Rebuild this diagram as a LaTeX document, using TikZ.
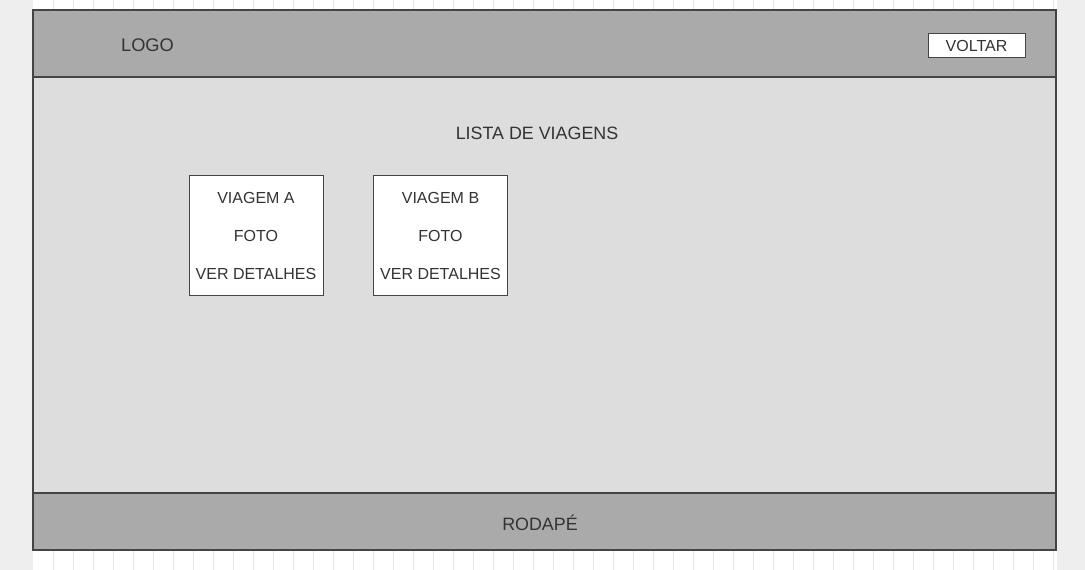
\documentclass[tikz,border=0pt]{standalone}
\usepackage{fontspec}
\setmainfont{Liberation Sans}
\definecolor{bgside}{HTML}{EEEEEE}
\definecolor{gridc}{HTML}{E4E4E4}
\definecolor{darkbar}{HTML}{AAAAAA}
\definecolor{mainbg}{HTML}{DDDDDD}
\definecolor{edge}{HTML}{444444}
\definecolor{txt}{HTML}{333333}
\begin{document}
\begin{tikzpicture}[x=0.75pt,y=-0.75pt,
  bar/.style={draw=edge,fill=darkbar,line width=0.9pt},
  panel/.style={draw=edge,fill=mainbg,line width=0.9pt},
  card/.style={draw=edge,fill=white,line width=0.75pt,minimum width=134*0.75pt,minimum height=120*0.75pt,inner sep=0pt},
  lbl/.style={text=txt,font=\fontsize{12pt}{14pt}\selectfont,inner sep=0pt},
  biglbl/.style={text=txt,font=\fontsize{13.4pt}{15pt}\selectfont,inner sep=0pt},
  btn/.style={draw=edge,fill=white,line width=0.75pt,minimum width=97*0.75pt,minimum height=24*0.75pt,inner sep=0pt,text=txt,font=\fontsize{12pt}{14pt}\selectfont}]
\useasboundingbox (0,0) rectangle (1085,570);
% background
\fill[bgside] (0,0) rectangle (1085,570);
\fill[white] (33,0) rectangle (1057,570);
\foreach \x in {53,73,...,1053} {\draw[gridc,line width=0.75pt] (\x,0) -- (\x,570);}
% main frame
\draw[panel] (33,77) rectangle (1056,493);
\draw[bar] (33,10) rectangle (1056,77);
\draw[bar] (33,493) rectangle (1056,550);
% header contents
\node[biglbl,font=\fontsize{13.7pt}{15pt}\selectfont] (logo) at (147.5,45) {LOGO};
\node[btn] (voltar) at (976.5,46) {VOLTAR};
% title
\node[biglbl] (title) at (537,133) {LISTA DE VIAGENS};
% cards
\node[card] (cardA) at (256,236) {};
\node[lbl] (a1) at (256,198) {VIAGEM A};
\node[lbl] (a2) at (256,236) {FOTO};
\node[lbl] (a3) at (256,274) {VER DETALHES};
\node[card] (cardB) at (440.5,236) {};
\node[lbl] (b1) at (440.5,198) {VIAGEM B};
\node[lbl] (b2) at (440.5,236) {FOTO};
\node[lbl] (b3) at (440.5,274) {VER DETALHES};
% footer
\node[biglbl] (footer) at (540,523) {RODAPÉ};
\end{tikzpicture}
\end{document}
